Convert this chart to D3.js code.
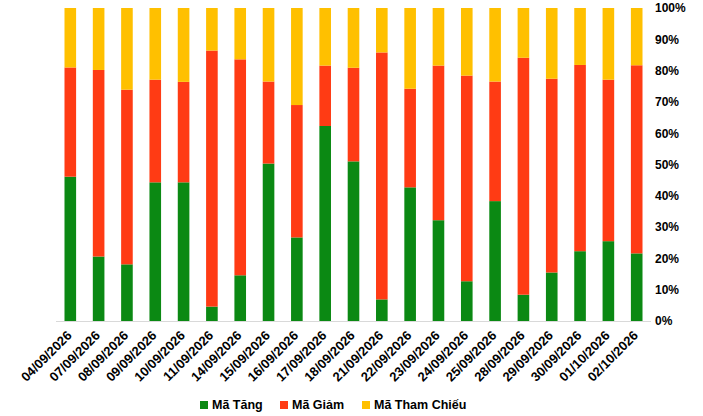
<html lang="vi">
<head>
<meta charset="utf-8">
<title>Tỷ lệ mã tăng / giảm / tham chiếu</title>
<script src="https://d3js.org/d3.v7.min.js"></script>
<style>
    body { margin: 0; background: #fff; }
    .chart text { font-family: "Liberation Sans", Arial, sans-serif; font-weight: bold; fill: #000; }
</style>
</head>
<body>
<svg class="chart"></svg>
<script>
// data (percent of codes per session)
var dates = ["04/09/2026", "07/09/2026", "08/09/2026", "09/09/2026", "10/09/2026", "11/09/2026",
    "14/09/2026", "15/09/2026", "16/09/2026", "17/09/2026", "18/09/2026", "21/09/2026",
    "22/09/2026", "23/09/2026", "24/09/2026", "25/09/2026", "28/09/2026", "29/09/2026",
    "30/09/2026", "01/10/2026", "02/10/2026"];
var maTang = [46.1, 20.6, 18.1, 44.3, 44.3, 4.6, 14.6, 50.3, 26.7, 62.3, 51.0, 6.9,
    42.7, 32.2, 12.7, 38.3, 8.4, 15.5, 22.3, 25.5, 21.6];
var maGiam = [34.9, 59.6, 55.8, 32.8, 32.1, 81.8, 69.0, 26.2, 42.3, 19.3, 29.9, 78.9,
    31.5, 49.4, 65.7, 38.2, 75.7, 61.9, 59.5, 51.6, 60.1];
var maThamChieu = [19.0, 19.8, 26.1, 22.9, 23.6, 13.6, 16.4, 23.5, 31.0, 18.4, 19.1, 14.2,
    25.8, 18.4, 21.6, 23.5, 15.9, 22.6, 18.2, 22.9, 18.3];
var seriesNames = ["Mã Tăng", "Mã Giảm", "Mã Tham Chiếu"];
var seriesColors = ["#0b8913", "#ff3b14", "#ffc000"];
var yTicks = [0, 10, 20, 30, 40, 50, 60, 70, 80, 90, 100];

var width = 703, height = 416;
var x0 = 56, x1 = 651, yTop = 8, yBottom = 321;

var svg = d3.select(".chart").attr("width", width).attr("height", height);

var rows = dates.map(function (d, i) {
    return { date: d, tang: maTang[i], giam: maGiam[i], tham: maThamChieu[i] };
});

var x = d3.scaleBand().domain(dates).range([x0, x1]).paddingInner(0.59).paddingOuter(0.3);
var y = d3.scaleLinear().domain([0, 100]).range([yBottom, yTop]);

var stack = d3.stack().keys(["tang", "giam", "tham"]).offset(d3.stackOffsetExpand);
var layers = stack(rows);

svg.append("g").selectAll("g")
    .data(layers)
    .join("g")
    .attr("fill", function (d, i) { return seriesColors[i]; })
    .selectAll("rect")
    .data(function (d) { return d; })
    .join("rect")
    .attr("x", function (d) { return x(d.data.date); })
    .attr("width", x.bandwidth())
    .attr("y", function (d) { return y(d[1] * 100); })
    .attr("height", function (d) { return y(d[0] * 100) - y(d[1] * 100); });

// baseline
svg.append("line")
    .attr("x1", x0).attr("x2", x1)
    .attr("y1", yBottom + 0.5).attr("y2", yBottom + 0.5)
    .attr("stroke", "#d9d9d9");

// right axis labels
var yAxis = d3.axisRight(y).tickValues(yTicks)
    .tickFormat(function (d) { return d + "%"; })
    .tickSize(0).tickPadding(0);
var ya = svg.append("g").attr("transform", "translate(655,0)").call(yAxis);
ya.select(".domain").remove();
ya.selectAll("text").style("font-size", "12px").attr("fill", "#000");

// x labels rotated
svg.append("g").selectAll("text")
    .data(dates)
    .join("text")
    .attr("transform", function (d) {
        return "translate(" + (x(d) + x.bandwidth() / 2 - 1) + "," + (yBottom + 12) + ") rotate(-45)";
    })
    .attr("text-anchor", "end")
    .attr("dy", "0.35em")
    .style("font-size", "13px")
    .text(function (d) { return d; });

// legend
var legendX = [200, 280, 362];
var legend = svg.append("g").selectAll("g")
    .data(seriesNames)
    .join("g")
    .attr("transform", function (d, i) { return "translate(" + legendX[i] + ",401)"; });
legend.append("rect")
    .attr("width", 8).attr("height", 8)
    .attr("fill", function (d, i) { return seriesColors[i]; });
legend.append("text")
    .attr("x", 12).attr("y", 4).attr("dy", "0.35em")
    .style("font-size", "12.5px")
    .text(function (d) { return d; });
</script>
</body>
</html>
